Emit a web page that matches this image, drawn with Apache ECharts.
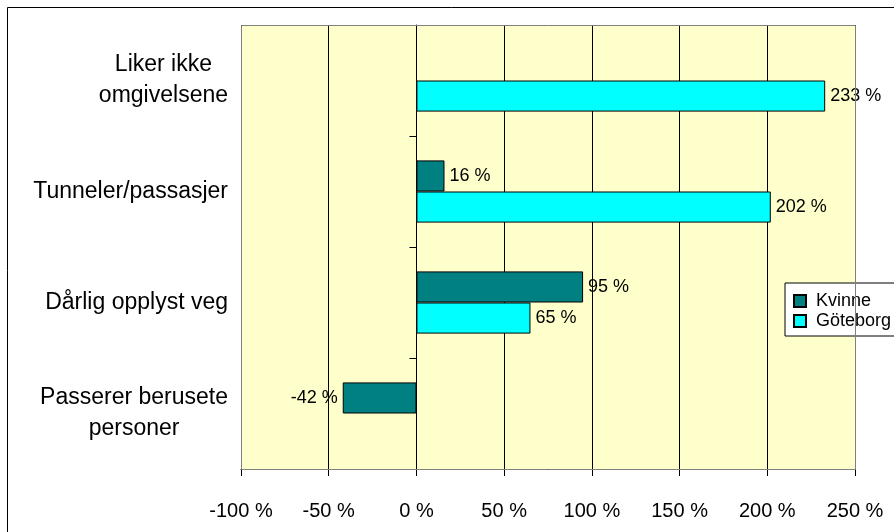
<!DOCTYPE html>
<html>
<head>
<meta charset="utf-8">
<script src="https://cdn.jsdelivr.net/npm/echarts@6/dist/echarts.min.js"></script>
<style>
  html, body { margin: 0; padding: 0; background: #fff; }
  #chart { width: 894px; height: 532px; }
</style>
</head>
<body>
<div id="chart"></div>
<script>
// Categories, top to bottom
const categories = [
  'Liker ikke\nomgivelsene',
  'Tunneler/passasjer',
  'Dårlig opplyst veg',
  'Passerer berusete\npersoner'
];
const seriesNames = ['Kvinne', 'Göteborg'];
const kvinne = [null, 16, 95, -42];
const goteborg = [233, 202, 65, null];
const xTicks = [-100, -50, 0, 50, 100, 150, 200, 250];

// Plot rectangle
const plot = { left: 241, top: 25, right: 855, bottom: 469 };
const W = 894, H = 532;
const FONT = '"Liberation Sans", Arial, sans-serif';

function toItems(values) {
  return values.map(v => v == null ? '-' : {
    value: v,
    label: { position: v < 0 ? 'left' : 'right' }
  });
}

// Multi-line category labels: lines centred on each other, block right-aligned
function catLabel(text) {
  return text.split('\n').map(l => '{c|' + l + '}').join('\n');
}

const chart = echarts.init(document.getElementById('chart'));
chart.setOption({
  animation: false,
  backgroundColor: '#ffffff',
  textStyle: { fontFamily: FONT },
  grid: {
    left: plot.left, top: plot.top,
    right: W - plot.right, bottom: H - plot.bottom,
    show: true, backgroundColor: '#FFFFCC', borderWidth: 0
  },
  legend: {
    orient: 'vertical',
    left: 785, top: 283,
    data: seriesNames,
    icon: 'rect',
    itemWidth: 12, itemHeight: 12,
    itemGap: 2,
    padding: [9, 20, 6, 8],
    backgroundColor: '#ffffff',
    borderColor: '#000000', borderWidth: 1,
    textStyle: { fontFamily: FONT, fontSize: 18, color: '#000', padding: [0, 0, 0, 5] }
  },
  xAxis: {
    type: 'value',
    min: xTicks[0], max: xTicks[xTicks.length - 1], interval: 50,
    axisLine: { show: true, lineStyle: { color: '#000', width: 1 } },
    axisTick: { show: true, length: 7, lineStyle: { color: '#000' } },
    axisLabel: {
      fontFamily: FONT, fontSize: 20, color: '#000', margin: 32,
      formatter: v => v + ' %'
    },
    splitLine: { show: true, lineStyle: { color: '#000', width: 1 } }
  },
  yAxis: [
    {
      type: 'category', data: categories, inverse: true,
      axisLine: { show: false, onZero: false },
      axisTick: { show: false },
      axisLabel: {
        margin: 13,
        formatter: catLabel,
        rich: { c: { fontFamily: FONT, fontSize: 23, color: '#000', align: 'center', lineHeight: 31 } }
      }
    },
    {
      type: 'category', data: categories, inverse: true, position: 'left',
      axisLine: { show: true, onZero: true, lineStyle: { color: '#000' } },
      axisTick: { show: true, length: 7, lineStyle: { color: '#000' } },
      axisLabel: { show: false },
      splitLine: { show: false }
    }
  ],
  series: [
    {
      name: seriesNames[0], type: 'bar', yAxisIndex: 0,
      data: toItems(kvinne),
      barGap: '0%', barCategoryGap: '44%',
      itemStyle: { color: '#008080', borderColor: '#000', borderWidth: 1 },
      label: {
        show: true, distance: 5, fontFamily: FONT, fontSize: 18, color: '#000',
        formatter: p => p.value + ' %'
      }
    },
    {
      name: seriesNames[1], type: 'bar', yAxisIndex: 0,
      data: toItems(goteborg),
      barGap: '0%', barCategoryGap: '44%',
      itemStyle: { color: '#00FFFF', borderColor: '#000', borderWidth: 1 },
      label: {
        show: true, distance: 5, fontFamily: FONT, fontSize: 18, color: '#000',
        formatter: p => p.value + ' %'
      }
    }
  ],
  graphic: [
    {
      type: 'rect', z: 100, silent: true,
      shape: { x: plot.left + 0.5, y: plot.top + 0.5, width: plot.right - plot.left, height: plot.bottom - plot.top },
      style: { fill: null, stroke: '#808080', lineWidth: 1 }
    },
    {
      type: 'rect', z: 100, silent: true,
      shape: { x: 7.5, y: 7.5, width: W + 10, height: H + 10 },
      style: { fill: null, stroke: '#000', lineWidth: 1 }
    }
  ]
});
</script>
</body>
</html>
